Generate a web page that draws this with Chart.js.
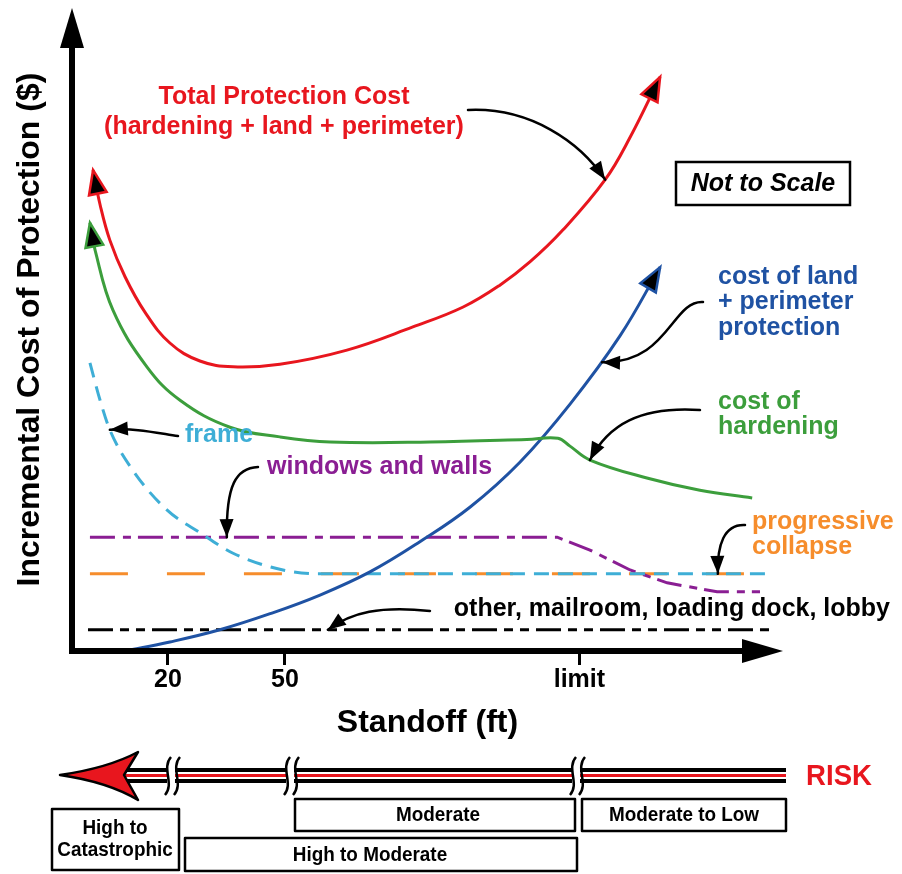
<!DOCTYPE html>
<html>
<head>
<meta charset="utf-8">
<title>Incremental Cost of Protection vs Standoff</title>
<script src="https://cdn.jsdelivr.net/npm/chart.js@4.4.1/dist/chart.umd.min.js"></script>
<style>
  html, body { margin: 0; padding: 0; background: #fff; }
  #wrap { width: 902px; height: 874px; }
</style>
</head>
<body>
<div id="wrap"><canvas id="costChart" width="902" height="874"></canvas></div>
<script>
// --- values (x = standoff, not to scale; y = relative cost) ---
const standoffTicks = [20, 50, 125.5];
const standoffLabels = ['20', '50', 'limit'];

const totalX = [0.8, 2.6, 5.1, 9.0, 14.1, 20.5, 28.2, 36.7, 48.7, 65.9, 82.8, 95.7, 105.1, 112.8, 121.3, 132.1, 138.5, 146.2];
const totalY = [74.8, 69.4, 63.9, 58.2, 52.7, 47.9, 45.1, 44.2, 44.6, 46.8, 50.4, 53.5, 56.9, 60.5, 65.5, 73.3, 79.9, 89.3];

const hardeningX = [0.0, 1.3, 5.9, 14.6, 23.1, 35.9, 48.7, 61.6, 87.2, 112.0, 120.0, 123.0, 128.2, 142.8, 156.4, 169.8];
const hardeningY = [66.6, 62.4, 53.0, 44.2, 39.0, 34.8, 33.3, 32.5, 32.5, 32.9, 33.1, 31.9, 29.7, 26.9, 25.0, 23.8];

const landX = [9.0, 20.5, 33.3, 46.2, 59.0, 71.8, 84.6, 97.5, 110.3, 123.1, 135.9, 146.2];
const landY = [0.0, 1.4, 3.3, 5.8, 8.7, 12.3, 17.0, 22.4, 29.4, 38.4, 49.0, 59.7];

const frameX = [0.0, 2.6, 5.1, 11.0, 19.8, 28.2, 36.7, 49.5, 59.0, 174.9];
const frameY = [44.8, 39.0, 34.4, 28.1, 21.9, 18.4, 15.2, 12.6, 12.0, 12.0];

const windowsX = [0.0, 119.8, 128.2, 138.5, 148.0, 160.8, 171.8];
const windowsY = [17.7, 17.7, 15.7, 12.6, 10.6, 9.2, 9.2];

const collapseX = [0.0, 168.5];
const collapseY = [12.0, 12.0];

const otherX = [-0.5, 175.1];
const otherY = [3.3, 3.3];
// -------------------------------------------------------------------------------

const FONT = '"Liberation Sans", Arial, Helvetica, sans-serif';
const RED = '#e8161e', GREEN = '#3c9e3c', BLUE = '#1f52a3', CYAN = '#3eaed6';
const PURPLE = '#8a1e93', ORANGE = '#f68d2c', BLACK = '#000';

const pts = (xs, ys) => xs.map((x, i) => ({ x: x, y: ys[i] }));

function arrowHead(ctx, tx, ty, fx, fy, len, half, fill, stroke, lw) {
    const a = Math.atan2(ty - fy, tx - fx);
    ctx.save();
    ctx.translate(tx, ty);
    ctx.rotate(a);
    ctx.beginPath();
    ctx.moveTo(0, 0);
    ctx.lineTo(-len, -half);
    ctx.lineTo(-len, half);
    ctx.closePath();
    ctx.fillStyle = fill;
    ctx.fill();
    if (stroke) {
        ctx.lineWidth = lw;
        ctx.strokeStyle = stroke;
        ctx.lineJoin = 'miter';
        ctx.stroke();
    }
    ctx.restore();
}

function label(ctx, text, x, y, color, size, align, style) {
    ctx.save();
    ctx.font = (style || 'bold') + ' ' + size + 'px ' + FONT;
    ctx.fillStyle = color;
    ctx.textAlign = align;
    ctx.textBaseline = 'middle';
    ctx.fillText(text, x, y);
    ctx.restore();
}

function narrowLabel(ctx, text, x, y, size, sx, color) {
    ctx.save();
    ctx.translate(x, y);
    ctx.scale(sx, 1);
    ctx.font = 'bold ' + size + 'px ' + FONT;
    ctx.fillStyle = color || BLACK;
    ctx.textAlign = 'center';
    ctx.textBaseline = 'middle';
    ctx.fillText(text, 0, 0);
    ctx.restore();
}

// curve end arrows: [dataset index, 'start' | 'end', colour]
const curveArrows = [[0, 'start', RED], [0, 'end', RED], [1, 'start', GREEN], [2, 'end', BLUE]];

// black pointer arrows: start and bend points in pixels, tip on the curve in data units
const callouts = [
    { from: [468, 110], c1: [530, 107], c2: [580, 142], to: { x: 132.1, y: 73.3 } },
    { from: [703, 302], c1: [672, 300], c2: [668, 364], to: { x: 131.3, y: 44.9 } },
    { from: [700, 410], c1: [640, 406], c2: [608, 425], to: { x: 128.2, y: 29.7 } },
    { from: [178, 436], c1: [152, 432], c2: [135, 428], to: { x: 5.1, y: 34.4 } },
    { from: [258, 467], c1: [236, 468], c2: [226, 485], to: { x: 35.1, y: 17.7 } },
    { from: [745, 525], c1: [724, 524], c2: [717, 545], to: { x: 161.0, y: 12.0 } },
    { from: [430, 611], c1: [380, 606], c2: [352, 612], to: { x: 61.0, y: 3.3 } }
];

const notes = [
    ['Total Protection Cost', 284, 97, RED, 'center'],
    ['(hardening + land + perimeter)', 284, 127, RED, 'center'],
    ['cost of land', 718, 277, BLUE, 'left'],
    ['+ perimeter', 718, 302, BLUE, 'left'],
    ['protection', 718, 328, BLUE, 'left'],
    ['cost of', 718, 402, GREEN, 'left'],
    ['hardening', 718, 427, GREEN, 'left'],
    ['frame', 185, 435, CYAN, 'left'],
    ['windows and walls', 267, 467, PURPLE, 'left'],
    ['progressive', 752, 522, ORANGE, 'left'],
    ['collapse', 752, 547, ORANGE, 'left'],
    ['other, mailroom, loading dock, lobby', 890, 609, BLACK, 'right']
];

const diagramPlugin = {
    id: 'diagram',
    beforeDraw(chart) {
        const ctx = chart.ctx;
        ctx.save();
        ctx.fillStyle = '#fff';
        ctx.fillRect(0, 0, chart.width, chart.height);
        ctx.restore();
    },
    afterDatasetsDraw(chart) {
        const ctx = chart.ctx;
        curveArrows.forEach(([di, end, color]) => {
            const d = chart.getDatasetMeta(di).data;
            const a = end === 'start' ? d[0] : d[d.length - 1];
            const b = end === 'start' ? d[1] : d[d.length - 2];
            arrowHead(ctx, a.x, a.y, b.x, b.y, 24, 9, BLACK, color, 2.5);
        });
    },
    afterDraw(chart) {
        const ctx = chart.ctx;
        const area = chart.chartArea;
        const xs = chart.scales.x, ys = chart.scales.y;

        // axes with arrow heads
        ctx.save();
        ctx.strokeStyle = BLACK;
        ctx.lineWidth = 6;
        ctx.beginPath();
        ctx.moveTo(area.left, area.bottom + 3);
        ctx.lineTo(area.left, area.top + 38);
        ctx.moveTo(area.left - 3, area.bottom);
        ctx.lineTo(area.right - 39, area.bottom);
        ctx.stroke();
        ctx.fillStyle = BLACK;
        ctx.beginPath();
        ctx.moveTo(area.left, area.top);
        ctx.lineTo(area.left - 12, area.top + 40);
        ctx.lineTo(area.left + 12, area.top + 40);
        ctx.closePath();
        ctx.fill();
        ctx.beginPath();
        ctx.moveTo(area.right, area.bottom);
        ctx.lineTo(area.right - 41, area.bottom - 12);
        ctx.lineTo(area.right - 41, area.bottom + 12);
        ctx.closePath();
        ctx.fill();
        ctx.restore();

        // pointer arrows
        callouts.forEach(c => {
            const tx = xs.getPixelForValue(c.to.x), ty = ys.getPixelForValue(c.to.y);
            ctx.save();
            ctx.strokeStyle = BLACK;
            ctx.lineWidth = 2.5;
            ctx.lineCap = 'round';
            ctx.beginPath();
            ctx.moveTo(c.from[0], c.from[1]);
            ctx.bezierCurveTo(c.c1[0], c.c1[1], c.c2[0], c.c2[1], tx, ty);
            ctx.stroke();
            ctx.restore();
            arrowHead(ctx, tx, ty, c.c2[0], c.c2[1], 18, 7, BLACK);
        });

        notes.forEach(n => label(ctx, n[0], n[1], n[2], n[3], 25, n[4]));

        // "Not to Scale" box
        ctx.save();
        ctx.strokeStyle = BLACK;
        ctx.lineWidth = 2.5;
        ctx.strokeRect(676, 162, 174, 43);
        ctx.restore();
        label(ctx, 'Not to Scale', 763, 184, BLACK, 25, 'center', 'italic bold');

        // --- risk bar ---
        ctx.save();
        ctx.fillStyle = BLACK;
        ctx.fillRect(118, 768, 668, 15);
        ctx.fillStyle = '#fff';
        ctx.fillRect(118, 772, 668, 7);
        ctx.fillStyle = RED;
        ctx.fillRect(118, 774, 668, 3);

        // breaks in the bar
        [171, 290, 576].forEach(bx => {
            ctx.fillStyle = '#fff';
            ctx.fillRect(bx - 4, 764, 8, 23);
            ctx.strokeStyle = BLACK;
            ctx.lineWidth = 2.5;
            [-5, 4].forEach(off => {
                const x0 = bx + off;
                ctx.beginPath();
                ctx.moveTo(x0 + 5, 757);
                ctx.bezierCurveTo(x0 - 5, 768, x0 + 9, 784, x0 - 1, 795);
                ctx.stroke();
            });
        });

        // red arrow head pointing left
        ctx.beginPath();
        ctx.moveTo(60, 775);
        ctx.quadraticCurveTo(108, 768, 138, 752);
        ctx.lineTo(124, 775);
        ctx.lineTo(138, 800);
        ctx.quadraticCurveTo(108, 782, 60, 775);
        ctx.closePath();
        ctx.fillStyle = RED;
        ctx.fill();
        ctx.strokeStyle = BLACK;
        ctx.lineWidth = 2.5;
        ctx.lineJoin = 'round';
        ctx.stroke();

        // risk boxes
        ctx.lineWidth = 2.5;
        ctx.strokeStyle = BLACK;
        ctx.fillStyle = '#fff';
        [[52, 809, 127, 61], [295, 799, 280, 32], [582, 799, 204, 32], [185, 838, 392, 33]].forEach(r => {
            ctx.fillRect(r[0], r[1], r[2], r[3]);
            ctx.strokeRect(r[0], r[1], r[2], r[3]);
        });
        ctx.restore();

        narrowLabel(ctx, 'High to', 115, 828, 21, 0.9);
        narrowLabel(ctx, 'Catastrophic', 115, 850, 21, 0.9);
        narrowLabel(ctx, 'Moderate', 438, 815, 21, 0.9);
        narrowLabel(ctx, 'Moderate to Low', 684, 815, 21, 0.9);
        narrowLabel(ctx, 'High to Moderate', 370, 855, 21, 0.9);
        narrowLabel(ctx, 'RISK', 839, 777, 29, 0.95, RED);
    }
};

const smooth = { cubicInterpolationMode: 'default', tension: 0.4 };

new Chart(document.getElementById('costChart').getContext('2d'), {
    type: 'line',
    data: {
        datasets: [
            Object.assign({ label: 'Total Protection Cost', data: pts(totalX, totalY), borderColor: RED, borderWidth: 3 }, smooth),
            Object.assign({ label: 'cost of hardening', data: pts(hardeningX, hardeningY), borderColor: GREEN, borderWidth: 3 }, smooth),
            Object.assign({ label: 'cost of land + perimeter protection', data: pts(landX, landY), borderColor: BLUE, borderWidth: 3 }, smooth),
            { label: 'frame', data: pts(frameX, frameY), borderColor: CYAN, borderWidth: 3, borderDash: [15, 9] },
            { label: 'windows and walls', data: pts(windowsX, windowsY), borderColor: PURPLE, borderWidth: 3, borderDash: [25, 8, 8, 7], tension: 0, cubicInterpolationMode: 'default' },
            { label: 'progressive collapse', data: pts(collapseX, collapseY), borderColor: ORANGE, borderWidth: 3, borderDash: [38, 39] },
            { label: 'other, mailroom, loading dock, lobby', data: pts(otherX, otherY), borderColor: BLACK, borderWidth: 3, borderDash: [25, 7, 9, 7, 9, 7] }
        ]
    },
    options: {
        responsive: false,
        animation: false,
        events: [],
        layout: { padding: { top: 8, right: 119, bottom: 0, left: 0 } },
        elements: {
            point: { radius: 0 },
            line: { cubicInterpolationMode: 'monotone', fill: false, borderCapStyle: 'butt' }
        },
        plugins: { legend: { display: false }, tooltip: { enabled: false } },
        scales: {
            x: {
                type: 'linear',
                min: -4.6,
                max: 177.7,
                afterFit: s => { s.height = 223; },
                afterBuildTicks: s => { s.ticks = standoffTicks.map(v => ({ value: v })); },
                ticks: {
                    callback: (v, i) => standoffLabels[i],
                    color: BLACK,
                    padding: 0,
                    maxRotation: 0,
                    font: { family: FONT, size: 25, weight: 'bold' }
                },
                grid: { drawOnChartArea: false, drawTicks: true, tickLength: 14, tickColor: BLACK, tickWidth: 3 },
                border: { display: false },
                title: {
                    display: true,
                    text: 'Standoff (ft)',
                    color: BLACK,
                    font: { family: FONT, size: 32, weight: 'bold' },
                    padding: { top: 0, bottom: 132 }
                }
            },
            y: {
                min: 0,
                max: 100,
                afterFit: s => { s.width = 72; },
                ticks: { display: false },
                grid: { display: false },
                border: { display: false },
                title: {
                    display: true,
                    text: 'Incremental Cost of Protection ($)',
                    color: BLACK,
                    font: { family: FONT, size: 32, weight: 'bold' },
                    padding: { top: 11, bottom: 0 }
                }
            }
        }
    },
    plugins: [diagramPlugin]
});
</script>
</body>
</html>
